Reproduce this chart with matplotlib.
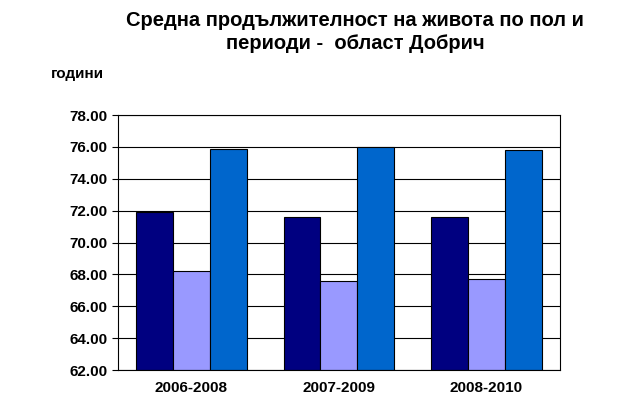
import matplotlib.pyplot as plt
import numpy as np

plt.rcParams['font.family'] = ['Liberation Sans', 'DejaVu Sans']

periods = ['2006-2008', '2007-2009', '2008-2010']
total = [71.9, 71.6, 71.6]
men = [68.2, 67.6, 67.7]
women = [75.9, 76.0, 75.8]
yticks = [62, 64, 66, 68, 70, 72, 74, 76, 78]

fig = plt.figure(figsize=(6.4, 4.2), dpi=100)
ax = fig.add_axes([0.184, 0.119, 0.691, 0.607])

x = np.arange(len(periods))
w = 0.25
base = 62
for off, vals, col in [(-w, total, '#000080'), (0, men, '#9999ff'), (w, women, '#0066cc')]:
    ax.bar(x + off, np.array(vals) - base, w, bottom=base, color=col,
           edgecolor='black', linewidth=0.8)

ax.set_xlim(-0.5, 2.5)
ax.set_ylim(62, 78)
ax.set_yticks(yticks)
ax.set_yticklabels(['%.2f' % v for v in yticks], fontsize=11, fontweight='bold')
ax.set_xticks(x)
ax.set_xticklabels(periods, fontsize=11, fontweight='bold')
ax.tick_params(axis='x', length=0, pad=8)
ax.tick_params(axis='y', length=4, direction='out')
ax.grid(axis='y', color='black', linewidth=0.8)
ax.set_axisbelow(True)
for s in ax.spines.values():
    s.set_color('black')

fig.text(0.555, 0.975, 'Средна продължителност на живота по пол и\nпериоди -  област Добрич',
         ha='center', va='top', fontsize=14.5, fontweight='bold', linespacing=1.3)
fig.text(0.08, 0.815, 'години', fontsize=11, fontweight='bold')

fig.savefig('out.png', dpi=100)
